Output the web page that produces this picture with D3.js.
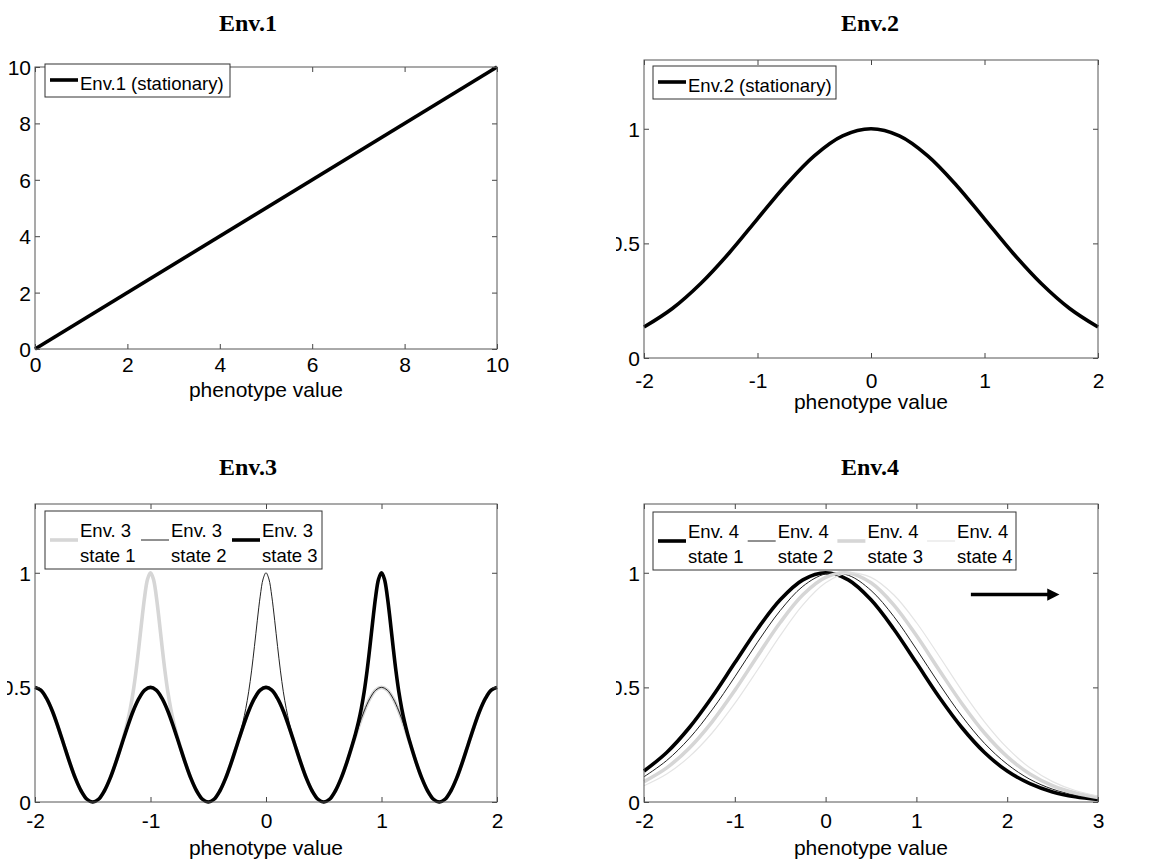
<!DOCTYPE html>
<html>
<head>
<meta charset="utf-8">
<script src="https://cdnjs.cloudflare.com/ajax/libs/d3/7.8.5/d3.min.js"></script>
<style>
  body { margin: 0; background: #fff; }
  svg { display: block; }
  .tick text { font-family: "Liberation Sans", Arial, sans-serif; fill: #000; }
</style>
</head>
<body>
<svg id="fig"></svg>
<script>
//---- data ----

// Env.1 : straight line y = x
var env1X = [0, 10];
var env1Y = [0, 10];

// Env.2 : bell curve, read every 0.25
var env2X = [-2, -1.75, -1.5, -1.25, -1, -0.75, -0.5, -0.25, 0, 0.25, 0.5, 0.75, 1, 1.25, 1.5, 1.75, 2];
var env2Y = [0.135, 0.216, 0.325, 0.458, 0.607, 0.755, 0.882, 0.969, 1, 0.969, 0.882, 0.755, 0.607, 0.458, 0.325, 0.216, 0.135];

// Env.3 : common wavy background read every 0.05 from -2 to 2
var env3BaseY = [
  0.5, 0.488, 0.452, 0.397, 0.327, 0.25, 0.173, 0.103, 0.048, 0.012, 0, 0.012, 0.048, 0.103, 0.173, 0.25, 0.327, 0.397, 0.452, 0.488,
  0.5, 0.488, 0.452, 0.397, 0.327, 0.25, 0.173, 0.103, 0.048, 0.012, 0, 0.012, 0.048, 0.103, 0.173, 0.25, 0.327, 0.397, 0.452, 0.488,
  0.5, 0.488, 0.452, 0.397, 0.327, 0.25, 0.173, 0.103, 0.048, 0.012, 0, 0.012, 0.048, 0.103, 0.173, 0.25, 0.327, 0.397, 0.452, 0.488,
  0.5, 0.488, 0.452, 0.397, 0.327, 0.25, 0.173, 0.103, 0.048, 0.012, 0, 0.012, 0.048, 0.103, 0.173, 0.25, 0.327, 0.397, 0.452, 0.488,
  0.5
];
var env3Step = 0.05;
// shape of the tall peak around its centre (offset from centre, value)
var env3PeakDx = [-0.25, -0.225, -0.2, -0.175, -0.15, -0.125, -0.1, -0.075, -0.05, -0.025, 0,
                  0.025, 0.05, 0.075, 0.1, 0.125, 0.15, 0.175, 0.2, 0.225, 0.25];
var env3PeakY = [0.254, 0.298, 0.348, 0.408, 0.481, 0.572, 0.679, 0.793, 0.898, 0.973, 1,
                 0.973, 0.898, 0.793, 0.679, 0.572, 0.481, 0.408, 0.348, 0.298, 0.254];
var env3Centers = [-1, 0, 1];   // where each state has its tall peak

// Env.4 : four shifted bell curves read every 0.25 from -2 to 3
var env4X = [-2, -1.75, -1.5, -1.25, -1, -0.75, -0.5, -0.25, 0, 0.25, 0.5, 0.75, 1, 1.25, 1.5, 1.75, 2, 2.25, 2.5, 2.75, 3];
var env4S1 = [0.135, 0.216, 0.325, 0.458, 0.607, 0.755, 0.882, 0.969, 1, 0.969, 0.882, 0.755, 0.607, 0.458, 0.325, 0.216, 0.135, 0.080, 0.044, 0.023, 0.011];
var env4S2 = [0.110, 0.181, 0.278, 0.402, 0.546, 0.697, 0.835, 0.941, 0.995, 0.989, 0.923, 0.810, 0.667, 0.516, 0.375, 0.256, 0.165, 0.099, 0.056, 0.030, 0.015];
var env4S3 = [0.089, 0.149, 0.236, 0.350, 0.487, 0.637, 0.783, 0.904, 0.980, 0.999, 0.956, 0.860, 0.726, 0.576, 0.430, 0.301, 0.198, 0.122, 0.071, 0.039, 0.020];
var env4S4 = [0.071, 0.122, 0.198, 0.301, 0.430, 0.576, 0.726, 0.860, 0.956, 0.999, 0.980, 0.904, 0.783, 0.637, 0.487, 0.350, 0.236, 0.149, 0.089, 0.050, 0.026];
// drift arrow (data units)
var arrowX = [1.6, 2.6];
var arrowY = 0.905;

// tick labels
var ticks1 = [0, 2, 4, 6, 8, 10];
var ticksPm2 = [-2, -1, 0, 1, 2];
var ticks4 = [-2, -1, 0, 1, 2, 3];
var ticksY = [0, 0.5, 1];

//---- helpers ----
function zipXY(xs, ys) {
  return xs.map(function (x, i) { return [x, ys[i]]; });
}

// background curve with the tall peak swapped in around centre c
function env3State(c) {
  var pts = [];
  env3BaseY.forEach(function (v, i) {
    var x = -2 + i * env3Step;
    if (Math.abs(x - c) > 0.26) pts.push([x, v]);
  });
  env3PeakY.forEach(function (v, i) {
    pts.push([c + env3PeakDx[i], v]);
  });
  pts.sort(function (a, b) { return a[0] - b[0]; });
  return pts;
}

// plain hyphen labels like the original (no unicode minus)
function plainLabel(d) { return String(d); }

var THICK = 3.6;
var GREY = "#d6d6d6";
var LIGHT = "#e4e4e4";

var panels = [
  {
    title: "Env.1", titleX: 248, titleY: 31,
    box: {l: 35, r: 497, t: 67, b: 349},
    xDom: [0, 10], yDom: [0, 10], xTicks: ticks1, yTicks: ticks1,
    xPad: 8, labelY: 397,
    series: [{pts: zipXY(env1X, env1Y), stroke: "#000", width: THICK}],
    legend: {x: 45, y: 64, w: 185, h: 33, lineY: 80, textY: [90], step: 0,
      items: [{stroke: "#000", width: THICK, text: ["Env.1 (stationary)"]}]}
  },
  {
    title: "Env.2", titleX: 870, titleY: 31,
    box: {l: 644, r: 1098, t: 60, b: 358},
    xDom: [-2, 2], yDom: [0, 1.3], xTicks: ticksPm2, yTicks: ticksY,
    xPad: 15, labelY: 409,
    series: [{pts: zipXY(env2X, env2Y), stroke: "#000", width: THICK}],
    legend: {x: 653, y: 66, w: 183, h: 33, lineY: 82, textY: [92], step: 0,
      items: [{stroke: "#000", width: THICK, text: ["Env.2 (stationary)"]}]}
  },
  {
    title: "Env.3", titleX: 248, titleY: 475,
    box: {l: 35, r: 497, t: 504, b: 802},
    xDom: [-2, 2], yDom: [0, 1.3], xTicks: ticksPm2, yTicks: ticksY,
    xPad: 11, labelY: 855,
    series: [
      {pts: env3State(env3Centers[0]), stroke: GREY, width: THICK},
      {pts: env3State(env3Centers[1]), stroke: "#222", width: 1},
      {pts: env3State(env3Centers[2]), stroke: "#000", width: THICK}
    ],
    legend: {x: 45, y: 511, w: 277, h: 58, lineY: 540, textY: [537, 562], step: 91,
      items: [
        {stroke: GREY, width: THICK, text: ["Env. 3", "state 1"]},
        {stroke: "#222", width: 1, text: ["Env. 3", "state 2"]},
        {stroke: "#000", width: THICK, text: ["Env. 3", "state 3"]}
      ]}
  },
  {
    title: "Env.4", titleX: 870, titleY: 475,
    box: {l: 644, r: 1098, t: 504, b: 802},
    xDom: [-2, 3], yDom: [0, 1.3], xTicks: ticks4, yTicks: ticksY,
    xPad: 11, labelY: 855,
    series: [
      {pts: zipXY(env4X, env4S1), stroke: "#000", width: THICK},
      {pts: zipXY(env4X, env4S2), stroke: "#222", width: 1},
      {pts: zipXY(env4X, env4S3), stroke: GREY, width: THICK},
      {pts: zipXY(env4X, env4S4), stroke: LIGHT, width: 1.2}
    ],
    arrow: true,
    legend: {x: 653, y: 512, w: 363, h: 58, lineY: 541, textY: [538, 563], step: 89.7,
      items: [
        {stroke: "#000", width: THICK, text: ["Env. 4", "state 1"]},
        {stroke: "#222", width: 1, text: ["Env. 4", "state 2"]},
        {stroke: GREY, width: THICK, text: ["Env. 4", "state 3"]},
        {stroke: LIGHT, width: 1.2, text: ["Env. 4", "state 4"]}
      ]}
  }
];

//---- drawing ----
var svg = d3.select("#fig").attr("width", 1149).attr("height", 859);
var defs = svg.append("defs");

defs.append("marker")
  .attr("id", "arrowhead")
  .attr("viewBox", "0 0 10 10")
  .attr("refX", 2).attr("refY", 5)
  .attr("markerWidth", 4).attr("markerHeight", 3.4)
  .attr("orient", "auto")
  .append("path")
  .attr("d", "M0,0L10,5L0,10Z")
  .attr("fill", "#000");

// the "0.5" labels are cut at the image edge in the original, only ".5" and a sliver of the 0 show.
// clip lives in the tick's own coordinates (text anchored at x = -4)
defs.append("clipPath").attr("id", "halfclip")
  .append("rect")
  .attr("x", -28).attr("y", -20)
  .attr("width", 28).attr("height", 40);

function drawPanel(p) {
  var b = p.box;
  var x = d3.scaleLinear().domain(p.xDom).range([b.l, b.r]);
  var y = d3.scaleLinear().domain(p.yDom).range([b.b, b.t]);
  var g = svg.append("g");

  // title
  g.append("text")
    .attr("x", p.titleX).attr("y", p.titleY)
    .attr("text-anchor", "middle")
    .style("font-family", "'Liberation Serif', 'Times New Roman', serif")
    .style("font-weight", "bold")
    .style("font-size", "24px")
    .text(p.title);

  // curves
  var line = d3.line()
    .x(function (d) { return x(d[0]); })
    .y(function (d) { return y(d[1]); })
    .curve(d3.curveCatmullRom);

  p.series.forEach(function (s) {
    g.append("path")
      .attr("d", line(s.pts))
      .attr("fill", "none")
      .attr("stroke", s.stroke)
      .attr("stroke-width", s.width)
      .attr("stroke-linejoin", "round");
  });

  if (p.arrow) {
    g.append("line")
      .attr("x1", x(arrowX[0])).attr("x2", x(arrowX[1]) - 12)
      .attr("y1", y(arrowY)).attr("y2", y(arrowY))
      .attr("stroke", "#000").attr("stroke-width", 3.6)
      .attr("marker-end", "url(#arrowhead)");
  }

  // axes, ticks pointing inwards on all four sides
  var fontSize = "21px";
  var xb = g.append("g").attr("transform", "translate(0," + b.b + ")")
    .call(d3.axisBottom(x).tickValues(p.xTicks).tickSizeInner(-5).tickSizeOuter(0)
      .tickPadding(p.xPad).tickFormat(plainLabel));
  var xt = g.append("g").attr("transform", "translate(0," + b.t + ")")
    .call(d3.axisTop(x).tickValues(p.xTicks).tickSizeInner(-5).tickSizeOuter(0).tickFormat(""));
  var yl = g.append("g").attr("transform", "translate(" + b.l + ",0)")
    .call(d3.axisLeft(y).tickValues(p.yTicks).tickSizeInner(-5).tickSizeOuter(0).tickPadding(4)
      .tickFormat(plainLabel));
  var yr = g.append("g").attr("transform", "translate(" + b.r + ",0)")
    .call(d3.axisRight(y).tickValues(p.yTicks).tickSizeInner(-5).tickSizeOuter(0).tickFormat(""));

  [xb, xt, yl, yr].forEach(function (a) {
    a.select(".domain").remove();
    a.selectAll(".tick line").attr("stroke", "#444");
    a.selectAll(".tick text").style("font-size", fontSize);
  });
  yl.selectAll(".tick text")
    .attr("dy", "0.36em")
    .filter(function (d) { return d === 0.5; })
    .attr("clip-path", "url(#halfclip)");

  g.append("rect")
    .attr("x", b.l).attr("y", b.t)
    .attr("width", b.r - b.l).attr("height", b.b - b.t)
    .attr("fill", "none").attr("stroke", "#555").attr("stroke-width", 1);

  // x label
  g.append("text")
    .attr("x", (b.l + b.r) / 2).attr("y", p.labelY)
    .attr("text-anchor", "middle")
    .style("font-family", "'Liberation Sans', Arial, sans-serif")
    .style("font-size", "21px")
    .text("phenotype value");

  // legend
  var L = p.legend;
  var lg = g.append("g");
  lg.append("rect")
    .attr("x", L.x).attr("y", L.y).attr("width", L.w).attr("height", L.h)
    .attr("fill", "#fff").attr("stroke", "#333").attr("stroke-width", 1);
  L.items.forEach(function (it, i) {
    var x0 = L.x + 5 + i * L.step;
    lg.append("line")
      .attr("x1", x0).attr("x2", x0 + 28)
      .attr("y1", L.lineY).attr("y2", L.lineY)
      .attr("stroke", it.stroke).attr("stroke-width", it.width);
    it.text.forEach(function (t, k) {
      lg.append("text")
        .attr("x", x0 + 30).attr("y", L.textY[k])
        .style("font-family", "'Liberation Sans', Arial, sans-serif")
        .style("font-size", "18.5px")
        .text(t);
    });
  });
}

panels.forEach(drawPanel);
</script>
</body>
</html>
